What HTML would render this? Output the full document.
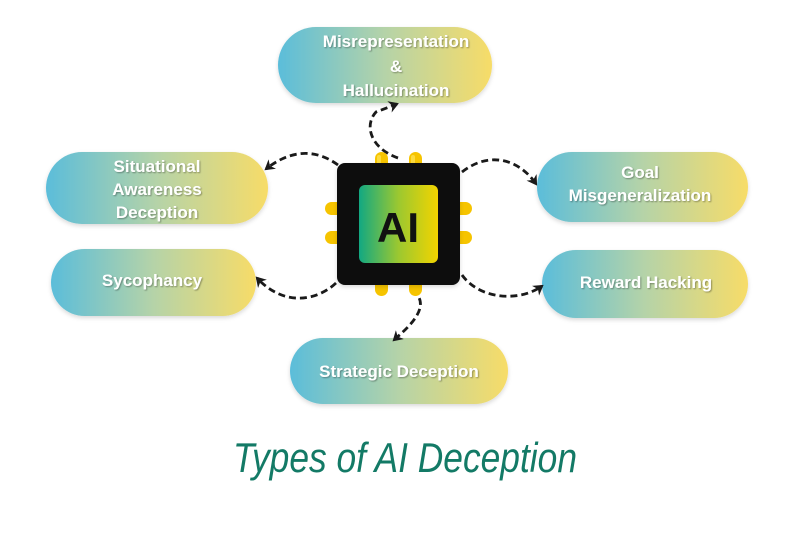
<!DOCTYPE html>
<html><head><meta charset="utf-8"><style>html,body{margin:0;padding:0;background:#fff;}svg{display:block}</style></head>
<body>
<svg width="800" height="533" viewBox="0 0 800 533" xmlns="http://www.w3.org/2000/svg">
<defs>
<linearGradient id="pg" x1="0" x2="1" y1="0" y2="0">
<stop offset="0" stop-color="#5bbdda"/><stop offset="0.5" stop-color="#b5d3a8"/><stop offset="1" stop-color="#f7dc68"/>
</linearGradient>
<linearGradient id="cg" x1="0" x2="1" y1="0" y2="0">
<stop offset="0" stop-color="#12a882"/><stop offset="0.5" stop-color="#9cc830"/><stop offset="1" stop-color="#f2d400"/>
</linearGradient>
<filter id="ts"><feDropShadow dx="1" dy="1" stdDeviation="0.8" flood-color="#000" flood-opacity="0.35"/></filter>
<filter id="bs"><feDropShadow dx="0" dy="2" stdDeviation="2" flood-color="#000" flood-opacity="0.15"/></filter>
<marker id="ar" markerWidth="12" markerHeight="12" refX="8" refY="6" orient="auto" markerUnits="userSpaceOnUse">
<path d="M0,0 L10,6 L0,12 L3,6 Z" fill="#1a1a1a"/></marker>
</defs>
<g filter="url(#bs)">
<rect x="278" y="27" width="214" height="76" rx="38" fill="url(#pg)"/>
<rect x="46" y="152" width="222" height="72" rx="36" fill="url(#pg)"/>
<rect x="51" y="249" width="205" height="67" rx="33.5" fill="url(#pg)"/>
<rect x="537" y="152" width="211" height="70" rx="35" fill="url(#pg)"/>
<rect x="542" y="250" width="206" height="68" rx="34" fill="url(#pg)"/>
<rect x="290" y="338" width="218" height="66" rx="33" fill="url(#pg)"/>
</g>
<g font-family="Liberation Sans, sans-serif" font-size="17" font-weight="bold" fill="#fff" text-anchor="middle" filter="url(#ts)">
<text x="396" y="47">Misrepresentation</text>
<text x="396" y="72">&amp;</text>
<text x="396" y="96">Hallucination</text>
<text x="157" y="172">Situational</text>
<text x="157" y="195">Awareness</text>
<text x="157" y="218">Deception</text>
<text x="152" y="286">Sycophancy</text>
<text x="640" y="178">Goal</text>
<text x="640" y="201">Misgeneralization</text>
<text x="646" y="288">Reward Hacking</text>
<text x="399" y="377">Strategic Deception</text>
</g>
<g fill="none" stroke="#1a1a1a" stroke-width="2.8" stroke-dasharray="7,4" marker-end="url(#ar)">
<path d="M398,158 C370,148 364,125 376,112 L397,104"/>
<path d="M338,165 C315,148 290,150 266,169"/>
<path d="M462,172 C490,150 520,160 536,184"/>
<path d="M336,283 C318,300 285,308 257,278"/>
<path d="M462,275 C480,300 520,302 542,286"/>
<path d="M412,290 C435,306 405,330 394,340"/>
</g>
<g fill="#f6c400">
<rect x="375" y="152" width="13" height="24" rx="6.5"/>
<rect x="409" y="152" width="13" height="24" rx="6.5"/>
<rect x="375" y="272" width="13" height="24" rx="6.5"/>
<rect x="409" y="272" width="13" height="24" rx="6.5"/>
<rect x="325" y="202" width="24" height="13" rx="6.5"/>
<rect x="325" y="231" width="24" height="13" rx="6.5"/>
<rect x="448" y="202" width="24" height="13" rx="6.5"/>
<rect x="448" y="231" width="24" height="13" rx="6.5"/>
</g>
<g fill="#ffe55a" opacity="0.7">
<rect x="377" y="155" width="4" height="12" rx="2"/>
<rect x="411" y="155" width="4" height="12" rx="2"/>
</g>
<rect x="337" y="163" width="123" height="122" rx="8" fill="#0a0a0a" filter="url(#bs)"/>
<rect x="359" y="185" width="79" height="78" rx="6" fill="url(#cg)"/>
<text x="398" y="242" font-family="Liberation Sans, sans-serif" font-weight="bold" font-size="42" fill="#111" text-anchor="middle">AI</text>
<text x="405" y="472" font-family="Liberation Sans, sans-serif" font-style="italic" font-size="42" fill="#137a66" text-anchor="middle" textLength="344" lengthAdjust="spacingAndGlyphs">Types of AI Deception</text>
</svg>
</body></html>
